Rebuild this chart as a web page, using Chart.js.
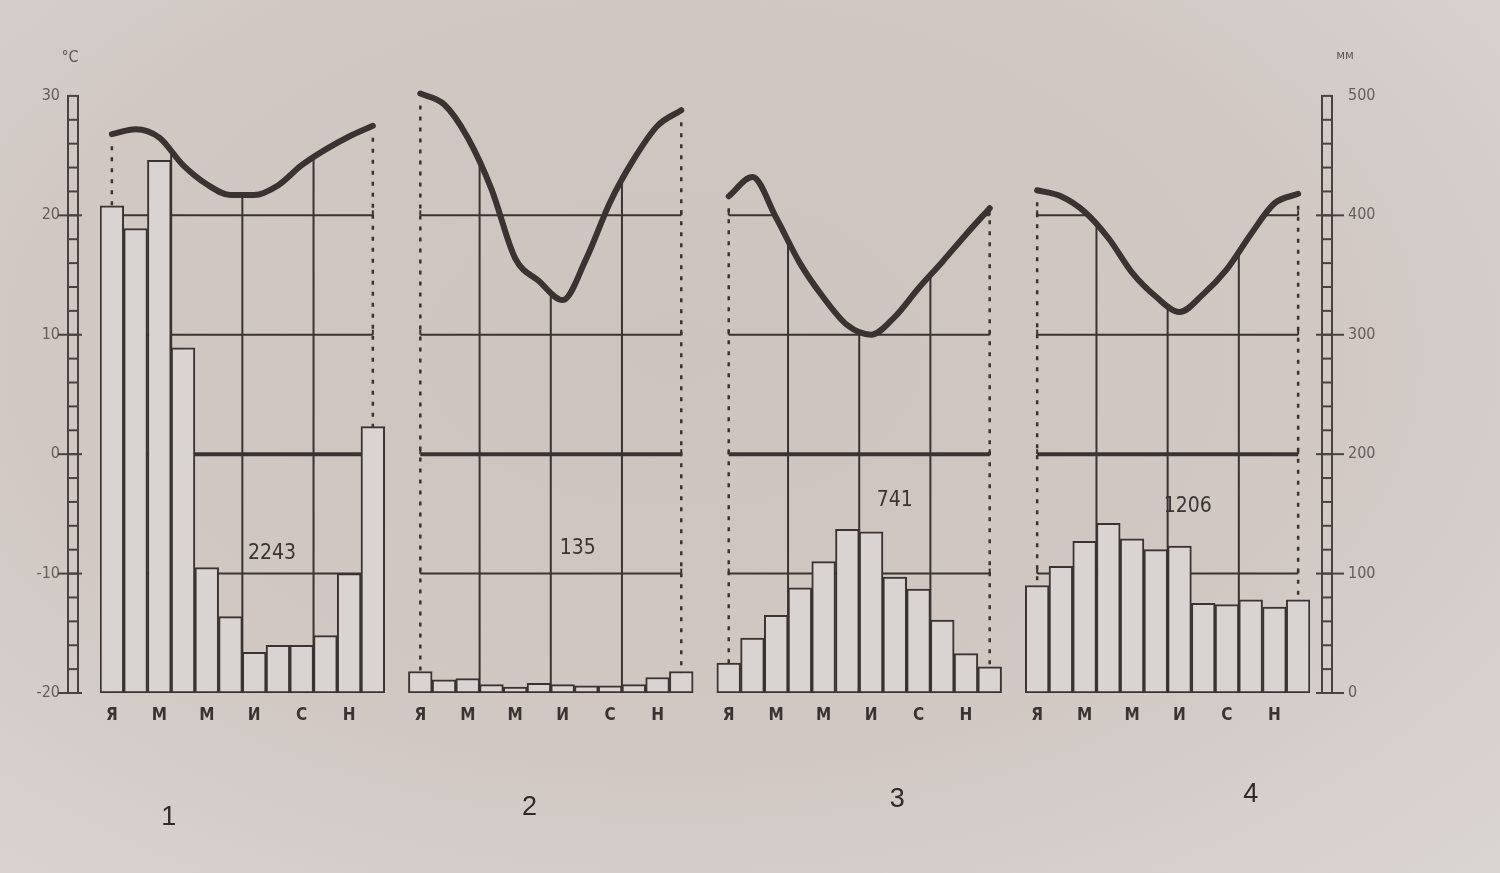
<!DOCTYPE html>
<html>
<head>
<meta charset="utf-8">
<title>Климатограммы</title>
<script src="https://cdn.jsdelivr.net/npm/chart.js@4.4.1/dist/chart.umd.min.js"></script>
<style>
  html, body { margin: 0; padding: 0; }
  body {
    width: 1500px; height: 873px; overflow: hidden;
    background: radial-gradient(ellipse at 45% 40%, #cdc3bf 0%, #d1c8c4 55%, #dbd5d1 100%);
  }
  #wrap { position: relative; width: 1500px; height: 873px; }
</style>
</head>
<body>
<div id="wrap"><canvas id="climateChart"></canvas></div>
<script>
// month initials shown under every other bar
const MONTH_LABELS = ['Я', '', 'М', '', 'М', '', 'И', '', 'С', '', 'Н', ''];
const PANEL_NAMES = ['1', '2', '3', '4'];
const PANEL_TOTALS = ['2243', '135', '741', '1206'];

// mean monthly temperature, °C
const temp1 = [26.8, 27.2, 26.5, 24.2, 22.6, 21.7, 21.7, 22.5, 24.2, 25.5, 26.6, 27.5];
const temp2 = [30.2, 29.3, 26.5, 22.2, 16.4, 14.5, 12.9, 16.4, 21.1, 24.7, 27.5, 28.8];
const temp3 = [21.6, 23.2, 19.8, 16.0, 13.1, 10.8, 10.0, 11.5, 13.9, 16.1, 18.4, 20.6];
const temp4 = [22.1, 21.6, 20.3, 18.1, 15.2, 13.2, 11.9, 13.4, 15.5, 18.4, 21.0, 21.8];

// monthly precipitation, mm
const precip1 = [408, 389, 446, 289, 105, 64, 34, 40, 40, 48, 100, 223];
const precip2 = [18, 11, 12, 7, 5, 8, 7, 6, 6, 7, 13, 18];
const precip3 = [25, 46, 65, 88, 110, 137, 135, 97, 87, 61, 33, 22];
const precip4 = [90, 106, 127, 142, 129, 120, 123, 75, 74, 78, 72, 78];

const TEMP_TICKS = [-20, -10, 0, 10, 20, 30];
const PRECIP_TICKS = [0, 100, 200, 300, 400, 500];
const GRID_LEVELS = [20, 10, 0, -10];

const PANEL_TEMPS = [temp1, temp2, temp3, temp4];
const PANEL_PRECIP = [precip1, precip2, precip3, precip4];

const INK = '#3a3331';
const BAR_FILL = '#d9d4d1';
const FONT_NARROW = "'Liberation Sans Narrow','DejaVu Sans Condensed','DejaVu Sans',sans-serif";
const PANEL_STRIDE = 13; // 12 months + 1 empty slot between diagrams

// where the texts sit, in (category offset, °C) / offset below the axis
const TOTAL_ANCHOR = [[6.75, -8.3], [6.64, -7.9], [7.0, -3.9], [6.35, -4.4]];
const NAME_ANCHOR = [[2.4, 125], [4.6, 115], [7.1, 107], [9.0, 102]];
const CLIP_UNDER_CURVE = [false, false, true, true];

const labels = [];
const precipAll = [];
PANEL_PRECIP.forEach((arr, p) => {
  MONTH_LABELS.forEach((l, m) => { labels.push(l); precipAll.push(arr[m]); });
  if (p < PANEL_PRECIP.length - 1) { labels.push(''); precipAll.push(null); }
});

const tempSets = PANEL_TEMPS.map((arr, p) => ({
  type: 'line',
  label: 'T' + (p + 1),
  data: labels.map((_, i) => {
    const m = i - p * PANEL_STRIDE;
    return m >= 0 && m < 12 ? arr[m] : null;
  }),
  yAxisID: 'y',
  borderColor: INK,
  borderWidth: 6,
  pointRadius: 0,
  cubicInterpolationMode: 'monotone',
  spanGaps: false,
  borderCapStyle: 'round',
  borderJoinStyle: 'round',
  order: 1,
}));

function stroke(ctx, x1, y1, x2, y2) {
  ctx.beginPath(); ctx.moveTo(x1, y1); ctx.lineTo(x2, y2); ctx.stroke();
}

// grid of each diagram: levels, season lines, dashed edges (under the bars)
const panelGrid = {
  id: 'panelGrid',
  beforeDatasetsDraw(chart) {
    const { ctx, chartArea } = chart;
    const x = chart.scales.x, y = chart.scales.y;
    ctx.save();
    ctx.strokeStyle = INK;
    PANEL_TEMPS.forEach((temps, p) => {
      const px = temps.map((_, m) => x.getPixelForValue(p * PANEL_STRIDE + m));
      const py = temps.map(t => y.getPixelForValue(t));
      const left = px[0], right = px[11];

      GRID_LEVELS.forEach(level => {
        const ly = y.getPixelForValue(level);
        ctx.save();
        if (CLIP_UNDER_CURVE[p]) {
          ctx.beginPath();
          ctx.moveTo(left - 4, chartArea.bottom);
          ctx.lineTo(left - 4, py[0] - 3);
          px.forEach((xx, i) => ctx.lineTo(xx, py[i] - 3));
          ctx.lineTo(right + 4, py[11] - 3);
          ctx.lineTo(right + 4, chartArea.bottom);
          ctx.closePath();
          ctx.clip();
        }
        ctx.lineWidth = level === 0 ? 4 : 2;
        stroke(ctx, left, ly, right, ly);
        ctx.lineWidth = 2;
        stroke(ctx, left, ly - 5, left, ly);
        stroke(ctx, right, ly - 5, right, ly);
        ctx.restore();
      });

      // season boundaries: Mar|Apr, Jun|Jul, Sep|Oct
      ctx.lineWidth = 2;
      [2, 5, 8].forEach(m => {
        const vx = (px[m] + px[m + 1]) / 2;
        const vy = (py[m] + py[m + 1]) / 2;
        stroke(ctx, vx, vy, vx, chartArea.bottom);
      });

      ctx.save();
      ctx.setLineDash([4, 7]);
      ctx.lineWidth = 2.5;
      stroke(ctx, left, py[0] + 12, left, chartArea.bottom);
      stroke(ctx, right, py[11] + 12, right, chartArea.bottom);
      ctx.restore();
    });
    ctx.restore();
  },
  afterDatasetsDraw(chart) {
    const { ctx, chartArea } = chart;
    const x = chart.scales.x, y = chart.scales.y;
    ctx.save();
    ctx.fillStyle = INK;
    ctx.textAlign = 'center';
    ctx.textBaseline = 'middle';
    ctx.font = '21px ' + FONT_NARROW;
    PANEL_TOTALS.forEach((txt, p) => {
      const [off, t] = TOTAL_ANCHOR[p];
      ctx.fillText(txt, x.getPixelForValue(p * PANEL_STRIDE + off), y.getPixelForValue(t));
    });
    ctx.font = '27px "Liberation Sans", Arial, sans-serif';
    ctx.fillStyle = '#2f2927';
    PANEL_NAMES.forEach((txt, p) => {
      const [off, dy] = NAME_ANCHOR[p];
      ctx.fillText(txt, x.getPixelForValue(p * PANEL_STRIDE + off), chartArea.bottom + dy);
    });
    ctx.restore();
  },
};

// ladder-style scales at both sides
function drawLadder(ctx, scale, x0, w, from, to, step, majors, extL, extR) {
  const top = scale.getPixelForValue(to), bottom = scale.getPixelForValue(from);
  ctx.lineWidth = 2;
  ctx.strokeRect(x0, top, w, bottom - top);
  for (let v = from + step; v < to; v += step) {
    const yy = scale.getPixelForValue(v);
    stroke(ctx, x0, yy, x0 + w, yy);
  }
  majors.forEach(v => {
    const yy = scale.getPixelForValue(v);
    stroke(ctx, x0 - extL, yy, x0 + w + extR, yy);
  });
}

const ladders = {
  id: 'ladders',
  afterDraw(chart) {
    const { ctx } = chart;
    const y = chart.scales.y, y1 = chart.scales.y1;
    ctx.save();
    ctx.strokeStyle = '#4a4240';
    drawLadder(ctx, y, 68, 10, -20, 30, 2, TEMP_TICKS.slice(0, -1), 10, 4);
    drawLadder(ctx, y1, 1322, 10, 0, 500, 20, PRECIP_TICKS.slice(0, -1), 6, 12);
    ctx.fillStyle = '#5e5653';
    ctx.textAlign = 'center';
    ctx.textBaseline = 'middle';
    ctx.font = '16px ' + FONT_NARROW;
    ctx.fillText('°C', 70, y.getPixelForValue(30) - 38);
    ctx.font = '13px ' + FONT_NARROW;
    ctx.fillText('мм', 1345, y1.getPixelForValue(500) - 40);
    ctx.restore();
  },
};

new Chart(document.getElementById('climateChart'), {
  type: 'bar',
  data: {
    labels,
    datasets: [
      {
        label: 'Осадки',
        data: precipAll,
        yAxisID: 'y1',
        backgroundColor: BAR_FILL,
        borderColor: INK,
        borderWidth: 2,
        borderSkipped: false,
        barPercentage: 1,
        categoryPercentage: 1,
        order: 2,
      },
      ...tempSets,
    ],
  },
  options: {
    responsive: true,
    maintainAspectRatio: false,
    devicePixelRatio: 1,
    animation: false,
    layout: { padding: { top: 78, left: 0, right: 0, bottom: 0 } },
    plugins: { legend: { display: false }, tooltip: { enabled: false } },
    scales: {
      x: {
        grid: { display: false, drawTicks: false },
        border: { display: false },
        ticks: {
          autoSkip: false, maxRotation: 0, minRotation: 0, padding: 12,
          color: INK, font: { family: FONT_NARROW, size: 17, weight: 'bold' },
        },
        afterFit: s => { s.height = 180; },
      },
      y: {
        position: 'left', min: -20, max: 31.5,
        grid: { display: false, drawTicks: false },
        border: { display: false },
        afterBuildTicks: s => { s.ticks = TEMP_TICKS.map(v => ({ value: v })); },
        ticks: { padding: 40, color: '#655d5a', font: { family: FONT_NARROW, size: 16 } },
        afterFit: s => { s.width = 100; },
      },
      y1: {
        position: 'right', min: 0, max: 515,
        grid: { display: false, drawTicks: false },
        border: { display: false },
        afterBuildTicks: s => { s.ticks = PRECIP_TICKS.map(v => ({ value: v })); },
        ticks: { padding: 38, color: '#655d5a', font: { family: FONT_NARROW, size: 16 } },
        afterFit: s => { s.width = 190; },
      },
    },
  },
  plugins: [panelGrid, ladders],
});
</script>
</body>
</html>
